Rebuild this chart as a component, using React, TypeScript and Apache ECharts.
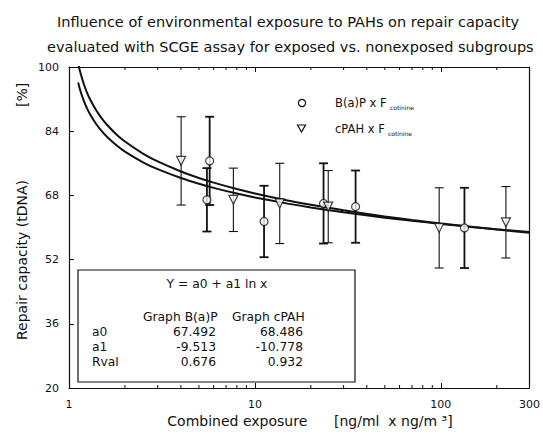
import { useEffect, useRef } from "react";
import * as echarts from "echarts";

// Fitted curves (x = combined exposure, y = repair capacity %)
const curveX = [1.12, 1.15, 1.2, 1.25, 1.3, 1.4, 1.5, 1.6, 1.8, 2, 2.5, 3, 4, 5, 6, 8, 10, 15, 20, 30, 50, 70, 100, 150, 200, 300];
const bapCurve = [96.14, 94.15, 91.62, 89.7, 88.16, 85.79, 84.01, 82.61, 80.48, 78.91, 76.26, 74.53, 72.32, 70.9, 69.88, 68.46, 67.49, 65.95, 64.99, 63.78, 62.45, 61.67, 60.9, 60.09, 59.56, 58.86];
const cpahCurve = [100.94, 98.68, 95.82, 93.64, 91.9, 89.22, 87.2, 85.61, 83.2, 81.43, 78.42, 76.46, 73.96, 72.35, 71.19, 69.58, 68.49, 66.74, 65.65, 64.28, 62.77, 61.88, 61.02, 60.11, 59.5, 58.71];

// Subgroup means and SDs
const bapX = [5.71, 5.52, 11.2, 23.4, 34.8, 134];
const bapY = [76.6, 66.9, 61.5, 66.0, 65.2, 59.9];
const bapSD = [11.0, 7.9, 8.9, 10.0, 9.0, 10.0];
const cpahX = [4.01, 7.66, 13.6, 24.8, 98, 224];
const cpahY = [76.6, 66.9, 66.0, 65.2, 59.9, 61.3];
const cpahSD = [11.0, 7.9, 10.0, 9.0, 10.0, 8.9];

// Regression table
const tableRows = ["a0", "a1", "Rval"];
const bapCoef = ["67.492", "-9.513", "0.676"];
const cpahCoef = ["68.486", "-10.778", "0.932"];

const minorTicks = [2, 3, 4, 5, 6, 7, 8, 9, 20, 30, 40, 50, 60, 70, 80, 90, 200];
const yTicks = { min: 20, max: 100, interval: 16 };

const FONT = "DejaVu Sans";
const INK = "#111";

export default function App() {
  const ref = useRef<HTMLDivElement>(null);
  useEffect(() => {
    const chart = echarts.init(ref.current!, null, { renderer: "svg" });
    const errData = [
      ...bapX.map((x, i) => [x, bapY[i] - bapSD[i], bapY[i] + bapSD[i], 1.8]),
      ...cpahX.map((x, i) => [x, cpahY[i] - cpahSD[i], cpahY[i] + cpahSD[i], 1.1]),
    ];
    const option: any = {
      animation: false,
      textStyle: { fontFamily: FONT, color: INK },
      grid: { left: 69, right: 9, top: 67, bottom: 46 },
      xAxis: [
        {
          type: "log",
          logBase: 10,
          min: 1,
          max: 300,
          position: "bottom",
          axisLine: { lineStyle: { color: INK, width: 1.2 } },
          axisTick: { inside: true, length: 5, lineStyle: { color: INK } },
          axisLabel: { fontSize: 11, color: INK, margin: 11, fontFamily: FONT, showMaxLabel: true },
          splitLine: { show: false },
        },
        {
          type: "log",
          logBase: 10,
          min: 1,
          max: 300,
          position: "top",
          axisLine: { lineStyle: { color: INK, width: 1 } },
          axisTick: { inside: true, length: 5, lineStyle: { color: INK } },
          axisLabel: { show: false },
          splitLine: { show: false },
        },
      ],
      yAxis: [
        {
          type: "value",
          ...yTicks,
          axisLine: { show: true, lineStyle: { color: INK, width: 1.2 } },
          axisTick: { show: true, inside: true, length: 5, lineStyle: { color: INK } },
          axisLabel: { fontSize: 11, color: INK, margin: 10, fontFamily: FONT },
          splitLine: { show: false },
        },
        {
          type: "value",
          ...yTicks,
          position: "right",
          axisLine: { show: true, lineStyle: { color: INK, width: 1.2 } },
          axisTick: { show: false },
          axisLabel: { show: false },
          splitLine: { show: false },
        },
      ],
      series: [
        {
          type: "custom",
          name: "minor",
          xAxisIndex: 0,
          yAxisIndex: 0,
          silent: true,
          data: minorTicks.map((v) => [v, yTicks.min]),
          renderItem: (_p: any, api: any) => {
            const v = api.value(0);
            const b = api.coord([v, yTicks.min]);
            const t = api.coord([v, yTicks.max]);
            const st = { stroke: INK, lineWidth: 1 };
            return {
              type: "group",
              children: [
                { type: "line", shape: { x1: b[0], y1: b[1], x2: b[0], y2: b[1] - 3 }, style: st },
                { type: "line", shape: { x1: t[0], y1: t[1], x2: t[0], y2: t[1] + 3 }, style: st },
              ],
            };
          },
          clip: false,
          z: 1,
        },
        {
          type: "line",
          name: "B(a)P fit",
          data: curveX.map((x, i) => [x, bapCurve[i]]),
          showSymbol: false,
          smooth: 0.3,
          lineStyle: { color: INK, width: 2 },
          clip: true,
          z: 2,
        },
        {
          type: "line",
          name: "cPAH fit",
          data: curveX.map((x, i) => [x, cpahCurve[i]]),
          showSymbol: false,
          smooth: 0.3,
          lineStyle: { color: INK, width: 2 },
          clip: true,
          z: 2,
        },
        {
          type: "custom",
          name: "err",
          data: errData,
          encode: { x: 0, y: [1, 2] },
          renderItem: (_p: any, api: any) => {
            const x = api.value(0);
            const lo = api.coord([x, api.value(1)]);
            const hi = api.coord([x, api.value(2)]);
            const st = { stroke: INK, lineWidth: api.value(3) };
            return {
              type: "group",
              children: [
                { type: "line", shape: { x1: hi[0], y1: hi[1], x2: lo[0], y2: lo[1] }, style: st },
                { type: "line", shape: { x1: hi[0] - 4.5, y1: hi[1], x2: hi[0] + 4.5, y2: hi[1] }, style: st },
                { type: "line", shape: { x1: lo[0] - 4.5, y1: lo[1], x2: lo[0] + 4.5, y2: lo[1] }, style: st },
              ],
            };
          },
          z: 3,
        },
        {
          type: "scatter",
          name: "B(a)P x F cotinine",
          data: bapX.map((x, i) => [x, bapY[i]]),
          symbol: "circle",
          symbolSize: 8,
          itemStyle: { color: "#fff", borderColor: INK, borderWidth: 1.2 },
          z: 4,
        },
        {
          type: "scatter",
          name: "cPAH x F cotinine",
          data: cpahX.map((x, i) => [x, cpahY[i]]),
          symbol: "triangle",
          symbolRotate: 180,
          symbolSize: 9,
          itemStyle: { color: "#fff", borderColor: INK, borderWidth: 1.2 },
          z: 4,
        },
      ],
      graphic: [
        {
          type: "text",
          left: 57,
          top: 14,
          style: { text: "Influence of environmental exposure to PAHs on repair capacity", fontSize: 14.5, fontFamily: FONT, fill: INK },
        },
        {
          type: "text",
          left: 47,
          top: 39,
          style: { text: "evaluated with SCGE assay for exposed vs. nonexposed subgroups", fontSize: 14.5, fontFamily: FONT, fill: INK },
        },
        {
          type: "text",
          x: 22,
          y: 340,
          rotation: Math.PI / 2,
          style: { text: "Repair capacity (tDNA)", fontSize: 14, fontFamily: FONT, fill: INK, align: "left", verticalAlign: "middle" },
        },
        {
          type: "text",
          x: 22,
          y: 107,
          rotation: Math.PI / 2,
          style: { text: "[%]", fontSize: 14, fontFamily: FONT, fill: INK, align: "left", verticalAlign: "middle" },
        },
        {
          type: "text",
          x: 310,
          y: 421,
          style: { text: "Combined exposure      [ng/ml  x ng/m \u00b3]", fontSize: 14, fontFamily: FONT, fill: INK, align: "center", verticalAlign: "middle" },
        },
        // legend
        { type: "circle", shape: { cx: 302, cy: 103, r: 3.6 }, style: { fill: "#fff", stroke: INK, lineWidth: 1.2 } },
        { type: "text", x: 335, y: 103, style: { text: "B(a)P x F", fontSize: 11.5, fontFamily: FONT, fill: INK, verticalAlign: "middle" } },
        { type: "text", x: 390, y: 107, style: { text: "cotinine", fontSize: 6, fontFamily: FONT, fill: INK, verticalAlign: "middle" } },
        { type: "polygon", shape: { points: [[297.5, 125], [305.5, 125], [301.5, 132]] }, style: { fill: "#fff", stroke: INK, lineWidth: 1.2 } },
        { type: "text", x: 335, y: 129, style: { text: "cPAH x F", fontSize: 11.5, fontFamily: FONT, fill: INK, verticalAlign: "middle" } },
        { type: "text", x: 388, y: 133, style: { text: "cotinine", fontSize: 6, fontFamily: FONT, fill: INK, verticalAlign: "middle" } },
        // inset table
        { type: "rect", shape: { x: 78, y: 270, width: 277, height: 112 }, style: { fill: "#fff", stroke: INK, lineWidth: 1.2 }, z: 10 },
        { type: "text", x: 217, y: 284, z: 11, style: { text: "Y = a0 + a1 ln x", fontSize: 12.3, fontFamily: FONT, fill: INK, align: "center", verticalAlign: "middle" } },
        { type: "text", x: 143, y: 317, z: 11, style: { text: "Graph B(a)P", fontSize: 12.3, fontFamily: FONT, fill: INK, verticalAlign: "middle" } },
        { type: "text", x: 232, y: 317, z: 11, style: { text: "Graph cPAH", fontSize: 12.3, fontFamily: FONT, fill: INK, verticalAlign: "middle" } },
        ...tableRows.map((r, i) => ({ type: "text", x: 92, y: 332 + i * 15, z: 11, style: { text: r, fontSize: 12.3, fontFamily: FONT, fill: INK, verticalAlign: "middle" } })),
        ...bapCoef.map((v, i) => ({ type: "text", x: 216, y: 332 + i * 15, z: 11, style: { text: v, fontSize: 12.3, fontFamily: FONT, fill: INK, align: "right", verticalAlign: "middle" } })),
        ...cpahCoef.map((v, i) => ({ type: "text", x: 303, y: 332 + i * 15, z: 11, style: { text: v, fontSize: 12.3, fontFamily: FONT, fill: INK, align: "right", verticalAlign: "middle" } })),
      ],
    };
    chart.setOption(option);
    return () => chart.dispose();
  }, []);
  return <div ref={ref} style={{ position: "absolute", left: 0, top: 0, width: 543, height: 434 }} />;
}
